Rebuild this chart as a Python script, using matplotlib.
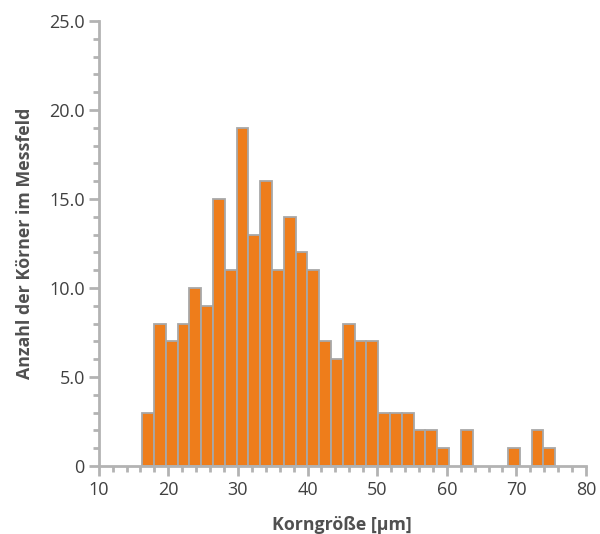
import matplotlib
matplotlib.use("Agg")
import matplotlib.pyplot as plt
import numpy as np
from matplotlib.ticker import MultipleLocator, FuncFormatter

# data
bin_start = 16.26
bin_width = 1.695
counts = [3, 8, 7, 8, 10, 9, 15, 11, 19, 13, 16, 11, 14, 12, 11, 7, 6, 8, 7, 7,
          3, 3, 3, 2, 2, 1, 0, 2, 0, 0, 0, 1, 0, 2, 1]
x_label = "Korngröße [µm]"
y_label = "Anzahl der Körner im Messfeld"

plt.rcParams['font.family'] = ['Open Sans', 'DejaVu Sans']

fig = plt.figure(figsize=(6.0, 5.34), dpi=100)
ax = fig.add_axes([0.1645, 0.1273, 0.9767 - 0.1645, 0.9607 - 0.1273])

lefts = bin_start + bin_width * np.arange(len(counts))
heights = np.array(counts, dtype=float)
mask = heights > 0
ax.bar(lefts[mask], heights[mask], width=bin_width, align='edge',
       color='#EE7D1B', edgecolor='#A8A8A8', linewidth=1.3, zorder=2)

ax.set_xlim(10, 80)
ax.set_ylim(0, 25)

axis_col = '#B3B3B3'
for s in ['top', 'right']:
    ax.spines[s].set_visible(False)
for s in ['left', 'bottom']:
    ax.spines[s].set_color(axis_col)
    ax.spines[s].set_linewidth(2)

ax.xaxis.set_major_locator(MultipleLocator(10))
ax.xaxis.set_minor_locator(MultipleLocator(2))
ax.yaxis.set_major_locator(MultipleLocator(5))
ax.yaxis.set_minor_locator(MultipleLocator(1))
ax.yaxis.set_major_formatter(FuncFormatter(lambda v, p: "0" if v == 0 else f"{v:.1f}"))

ax.tick_params(axis='both', which='major', color=axis_col, width=2, length=7,
               labelsize=13, labelcolor='#404040', direction='out')
ax.tick_params(axis='both', which='minor', color=axis_col, width=2, length=4,
               direction='out')
ax.tick_params(axis='x', which='major', pad=4)
ax.tick_params(axis='y', which='major', pad=3)

ax.set_xlabel(x_label, fontsize=12.8, fontweight='bold', color='#505050', labelpad=12)
ax.set_ylabel(y_label, fontsize=12.8, fontweight='bold', color='#505050', labelpad=11)

fig.savefig("out.png", dpi=100)
